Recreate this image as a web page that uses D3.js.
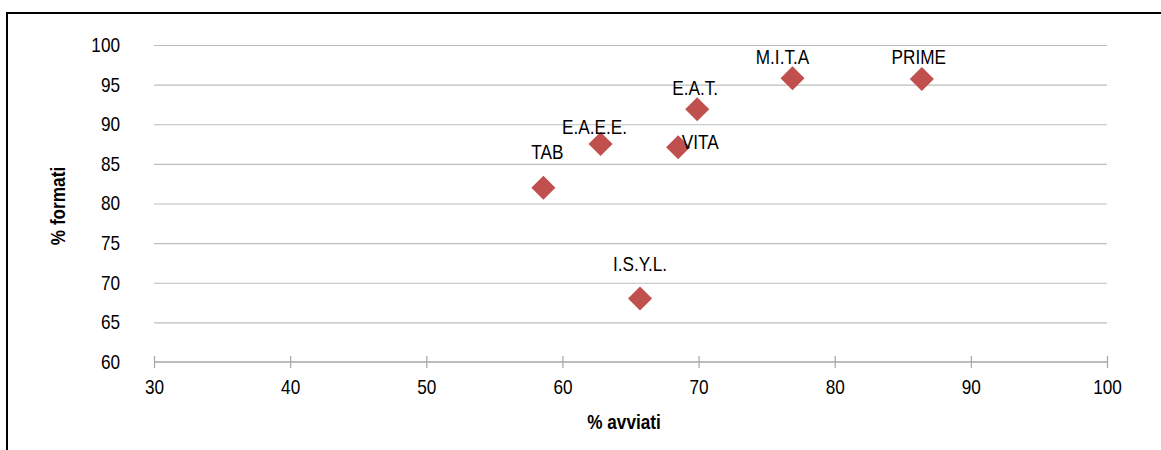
<!DOCTYPE html>
<html>
<head>
<meta charset="utf-8">
<script src="https://cdn.jsdelivr.net/npm/d3@7"></script>
<style>
  body { margin: 0; background: #fff; }
  svg text { font-family: "Liberation Sans Narrow", "Arial Narrow", "Liberation Sans", sans-serif; fill: #000; }
</style>
</head>
<body>
<script>
// Define SVG area dimensions
var svgWidth = 1161;
var svgHeight = 450;

// data
var names = ["TAB", "E.A.E.E.", "VITA", "E.A.T.", "M.I.T.A", "PRIME", "I.S.Y.L."];
var avviati = [58.6, 62.8, 68.5, 69.9, 76.9, 86.4, 65.7];
var formati = [82.0, 87.5, 87.1, 91.9, 95.8, 95.7, 68.0];
var xTicks = [30, 40, 50, 60, 70, 80, 90, 100];
var yTicks = [60, 65, 70, 75, 80, 85, 90, 95, 100];

// label placement (px offset from the point), like excel moved them
var labelDx = [4, -6, 22, -2, -10, -3, 0];
var labelDy = [-36, -17, -5, -21, -21, -22, -35];

// no narrow font here, so squeeze the text a bit
var squeeze = 0.86;
function condense(sel) {
  sel.each(function() {
    var t = d3.select(this);
    var x = +t.attr("x") || 0;
    t.attr("x", x / squeeze)
     .attr("transform", "scale(" + squeeze + ",1)");
  });
}

var svg = d3.select("body")
  .append("svg")
  .attr("width", svgWidth)
  .attr("height", svgHeight);

// outer frame (cut on the right / bottom)
svg.append("rect")
  .attr("x", 7)
  .attr("y", 13)
  .attr("width", 1200)
  .attr("height", 500)
  .attr("fill", "none")
  .attr("stroke", "#000")
  .attr("stroke-width", 2);

var xScale = d3.scaleLinear().domain([30, 100]).range([154, 1107]);
var yScale = d3.scaleLinear().domain([60, 100]).range([362, 45]);

// gridlines + y labels
var yAxis = d3.axisLeft(yScale)
  .tickValues(yTicks)
  .tickSize(-(1107 - 154))
  .tickPadding(34);

var gy = svg.append("g")
  .attr("transform", "translate(154,0)")
  .call(yAxis);
gy.select(".domain").remove();
gy.selectAll(".tick line")
  .attr("stroke", function(d) { return d == 60 ? "none" : "#bdbdbd"; })
  .attr("stroke-width", 1.2);
gy.selectAll(".tick text")
  .attr("font-size", 20)
  .attr("font-family", null)
  .call(condense);

// x axis
var xAxis = d3.axisBottom(xScale)
  .tickValues(xTicks)
  .tickSize(6)
  .tickPadding(12);

var gx = svg.append("g")
  .attr("transform", "translate(0,362)")
  .call(xAxis);
gx.select(".domain")
  .attr("d", "M154,0H1107")
  .attr("stroke", "#a6a6a6")
  .attr("stroke-width", 1.5);
gx.selectAll(".tick line")
  .attr("y1", -6)
  .attr("stroke", "#a6a6a6")
  .attr("stroke-width", 1.2);
gx.selectAll(".tick text")
  .attr("font-size", 20)
  .attr("font-family", null)
  .call(condense);

// axis titles
svg.append("text")
  .attr("x", 624)
  .attr("y", 429)
  .attr("text-anchor", "middle")
  .attr("font-size", 20)
  .attr("font-weight", "bold")
  .text("% avviati")
  .call(condense);

svg.append("g")
  .attr("transform", "translate(65,206) rotate(-90)")
  .append("text")
  .attr("text-anchor", "middle")
  .attr("font-size", 20)
  .attr("font-weight", "bold")
  .text("% formati")
  .call(condense);

// points
var idx = d3.range(names.length);
var diamond = d3.symbol().type(d3.symbolSquare).size(17 * 17);

svg.selectAll("path.pt")
  .data(idx)
  .enter()
  .append("path")
  .attr("class", "pt")
  .attr("d", diamond)
  .attr("transform", function(i) {
    return "translate(" + xScale(avviati[i]) + "," + yScale(formati[i]) + ") rotate(45)";
  })
  .attr("fill", "#c0504d");

svg.selectAll("text.lbl")
  .data(idx)
  .enter()
  .append("text")
  .attr("class", "lbl")
  .attr("x", function(i) { return xScale(avviati[i]) + labelDx[i]; })
  .attr("y", function(i) { return yScale(formati[i]) + labelDy[i]; })
  .attr("dy", "0.36em")
  .attr("text-anchor", "middle")
  .attr("font-size", 20)
  .text(function(i) { return names[i]; })
  .call(condense);
</script>
</body>
</html>
